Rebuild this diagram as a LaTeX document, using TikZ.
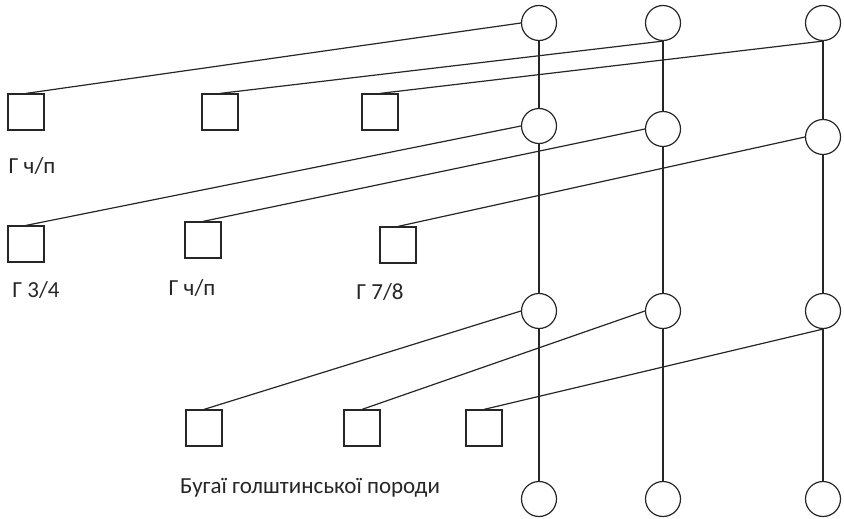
\documentclass[tikz,border=0pt]{standalone}
\usepackage{fontspec}
\setmainfont{Carlito}
\usepackage{tikz}
\tikzstyle{dam} = [circle, 
minimum size=35pt, 
inner sep=0pt, 
draw=black!85, 
fill=white]
\tikzstyle{sire} = [rectangle, 
minimum size=36pt, 
inner sep=0pt, 
draw=black!85, 
fill=white]
\tikzstyle{label} = [inner sep=0pt, 
text=black!85, 
text centered]

\begin{document}
\begin{tikzpicture}[x=1pt, y=-1pt, line width=1.2pt]
\tikzstyle{every node}=[font=\fontsize{23}{28}\selectfont]
\useasboundingbox (0,0) rectangle (844,519);
% cows, four generations
\node (c11) [dam] at (539,23) {};
\node (c12) [dam] at (663,23) {};
\node (c13) [dam] at (823,23) {};
\node (c21) [dam] at (539,126) {};
\node (c22) [dam] at (663,129) {};
\node (c23) [dam] at (823,137) {};
\node (c31) [dam] at (539,311) {};
\node (c32) [dam] at (663,311) {};
\node (c33) [dam] at (823,311) {};
\node (c41) [dam] at (539,499) {};
\node (c42) [dam] at (663,499) {};
\node (c43) [dam] at (823,499) {};
% bulls
\node (s11) [sire] at (26,112) {};
\node (s12) [sire] at (220,112) {};
\node (s13) [sire] at (380,112) {};
\node (s21) [sire] at (26,244) {};
\node (s22) [sire] at (203,240) {};
\node (s23) [sire] at (398,245) {};
\node (s31) [sire] at (204,428) {};
\node (s32) [sire] at (362,428) {};
\node (s33) [sire] at (484,428) {};
% labels
\node (l11) [label] at (32,166) {Г ч/п};
\node (l21) [label] at (36,290) {Г 3/4};
\node (l22) [label] at (192,288) {Г ч/п};
\node (l23) [label] at (380,292) {Г 7/8};
\node (l3) [label] at (310,488) {Бугаї голштинської породи};

\draw [black!85] (c11) edge (c21);
\draw [black!85] (c12) edge (c22);
\draw [black!85] (c13) edge (c23);
\draw [black!85] (c21) edge (c31);
\draw [black!85] (c22) edge (c32);
\draw [black!85] (c23) edge (c33);
\draw [black!85] (c31) edge (c41);
\draw [black!85] (c32) edge (c42);
\draw [black!85] (c33) edge (c43);
\draw [black!85] (s11.north) edge (c11.west);
\draw [black!85] (s12.north) edge (c12.south);
\draw [black!85] (s13.north) edge (c13.south);
\draw [black!85] (s21.north) edge (c21.west);
\draw [black!85] (s22.north) edge (c22.west);
\draw [black!85] (s23.north) edge (c23.west);
\draw [black!85] (s31.north) edge (c31.west);
\draw [black!85] (s32.north) edge (c32.west);
\draw [black!85] (s33.north) edge (c33.south);
\end{tikzpicture}
\end{document}
